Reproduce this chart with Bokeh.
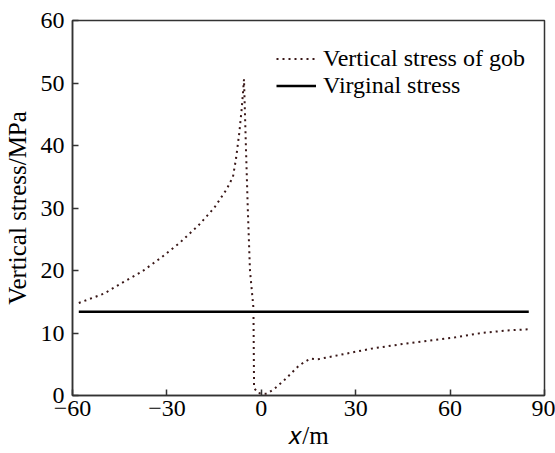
from bokeh.plotting import figure
from bokeh.models import FixedTicker, Range1d, Legend, LegendItem
from bokeh.embed import file_html
from bokeh.resources import INLINE

# ---- data ----
gob_x = [-58, -50, -44, -38, -32, -26, -20, -15, -11, -9, -8, -7, -6.2, -5.5,
         -4.9, -4.3, -3.6, -2.5, -2.3, -1.0, 0.0, 1.8, 4.0, 7.2, 12.0, 15.5, 18.0,
         25.0, 35.0, 45.7, 55.0, 61.6, 70.0, 78.0, 85.0]
gob_y = [14.8, 16.3, 18.1, 19.8, 22.0, 24.4, 27.2, 30.0, 33.0, 35.0, 38.0, 42.0, 46.0, 50.6,
         40.0, 30.0, 20.0, 14.0, 1.2, 0.4, 0.3, 0.3, 1.0, 2.4, 4.8, 5.9, 5.8,
         6.5, 7.5, 8.3, 8.9, 9.3, 10.0, 10.4, 10.6]
virgin_x = [-58, 85]
virgin_y = [13.4, 13.4]

x_ticks = [-60, -30, 0, 30, 60, 90]
x_tick_labels = ["\u221260", "\u221230", "0", "30", "60", "90"]
y_ticks = [0, 10, 20, 30, 40, 50, 60]
y_tick_labels = ["0", "10", "20", "30", "40", "50", "60"]

series_names = ["Vertical stress of gob", "Virginal stress"]
y_label = "Vertical stress/MPa"
x_label = "\U0001D465/m"

FONT = "Liberation Serif"
FS = "24px"

p = figure(width=555, height=453, output_backend="svg", toolbar_location=None,
           x_range=Range1d(-60, 90), y_range=Range1d(0, 60),
           min_border_left=72, min_border_right=11, min_border_top=20, min_border_bottom=58)
p.grid.visible = False
p.background_fill_color = "white"
p.border_fill_color = "white"
p.outline_line_color = "#333333"
p.outline_line_width = 1.5

gob = p.line(gob_x, gob_y, line_color="#3a1818", line_width=2, line_dash="2 4")
vir = p.line(virgin_x, virgin_y, line_color="black", line_width=2.5)

for ax, ticks, labels in ((p.xaxis[0], x_ticks, x_tick_labels), (p.yaxis[0], y_ticks, y_tick_labels)):
    ax.ticker = FixedTicker(ticks=ticks)
    ax.major_label_overrides = {t: l for t, l in zip(ticks, labels)}
    ax.major_tick_in = 6
    ax.major_tick_out = 0
    ax.minor_tick_in = 0
    ax.minor_tick_out = 0
    ax.axis_line_color = "#333333"
    ax.axis_line_width = 1.5
    ax.major_tick_line_color = "#333333"
    ax.major_tick_line_width = 1.5
    ax.major_label_text_font = FONT
    ax.major_label_text_font_size = FS
    ax.major_label_text_color = "black"
    ax.axis_label_text_font = FONT
    ax.axis_label_text_font_size = "25px"
    ax.axis_label_text_font_style = "normal"
    ax.axis_label_text_color = "black"

p.xaxis.major_label_standoff = 5
p.yaxis.major_label_standoff = 8
p.yaxis.axis_label = y_label
p.yaxis.axis_label_standoff = 7
p.xaxis.axis_label = x_label
p.xaxis.axis_label_standoff = 3

legend = Legend(items=[LegendItem(label=series_names[0], renderers=[gob]),
                       LegendItem(label=series_names[1], renderers=[vir])],
                location=(204, 296), padding=5, spacing=-2, margin=0,
                glyph_width=40, glyph_height=25, label_height=25, label_standoff=7,
                label_text_font=FONT, label_text_font_size=FS, label_text_color="black",
                border_line_color=None, background_fill_alpha=0)
p.add_layout(legend)

open("out.html", "w").write(file_html(p, INLINE))
